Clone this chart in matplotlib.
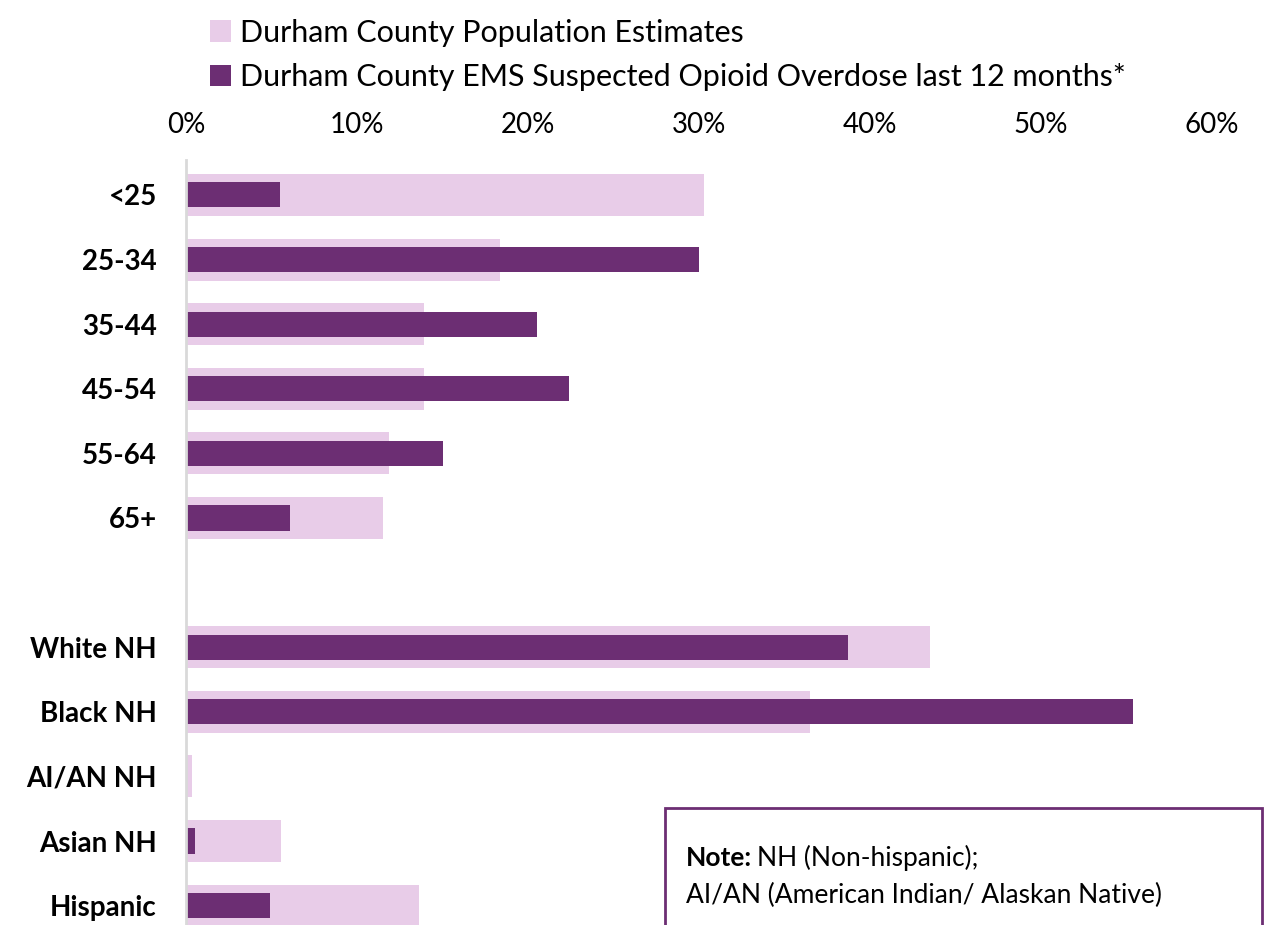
import matplotlib
matplotlib.use("Agg")
import matplotlib.pyplot as plt
from matplotlib.patches import Rectangle

plt.rcParams['font.family'] = ['Lato', 'DejaVu Sans']

categories = ["<25", "25-34", "35-44", "45-54", "55-64", "65+", "",
              "White NH", "Black NH", "AI/AN NH", "Asian NH", "Hispanic"]
population = [30.3, 18.35, 13.9, 13.9, 11.9, 11.5, None,
              43.5, 36.5, 0.35, 5.55, 13.6]
ems = [5.5, 30.0, 20.5, 22.4, 15.0, 6.1, None,
       38.7, 55.4, 0.0, 0.5, 4.9]
xticks = [0, 10, 20, 30, 40, 50, 60]
xtick_labels = ["0%", "10%", "20%", "30%", "40%", "50%", "60%"]
legend_labels = ["Durham County Population Estimates",
                 "Durham County EMS Suspected Opioid Overdose last 12 months*"]

POP_C = "#E8CCE8"
EMS_C = "#6C2E73"

fig = plt.figure(figsize=(12.69, 9.25), dpi=100)
ax = fig.add_axes([186/1269, 0.0, (1212-186)/1269, 1 - 160/925])

ypos = [i for i, v in enumerate(population) if v is not None]
popv = [v for v in population if v is not None]
emsv = [v for v in ems if v is not None]
labs = [c for c, v in zip(categories, population) if v is not None]

b1 = ax.barh(ypos, popv, height=0.65, color=POP_C, label=legend_labels[0])
b2 = ax.barh(ypos, emsv, height=0.39, color=EMS_C, label=legend_labels[1])

ax.set_xlim(0, 60)
ax.set_ylim(11.30, -0.54)
ax.xaxis.tick_top()
ax.set_xticks(xticks)
ax.set_xticklabels(xtick_labels, fontsize=20)
ax.tick_params(axis='x', length=0, pad=16)
ax.set_yticks(ypos)
ax.set_yticklabels(labs, fontsize=20, fontweight='bold')
ax.tick_params(axis='y', length=0, pad=21)
for s in ['top', 'right', 'bottom']:
    ax.spines[s].set_visible(False)
ax.spines['left'].set_color('#D9D9D9')
ax.spines['left'].set_linewidth(2)

fig.legend(handles=[b1, b2], labels=legend_labels, loc='upper left',
           bbox_to_anchor=(182/1269, 1 + 9/925), frameon=False, fontsize=22,
           handlelength=0.7, handleheight=0.7, handletextpad=0.3,
           labelspacing=0.55)

# Note box
box = Rectangle((665/1269, -0.05), (1262-665)/1269, (925-808)/925 + 0.05,
                transform=fig.transFigure, facecolor='white',
                edgecolor=EMS_C, linewidth=2, zorder=5)
fig.patches.append(box)
t1 = fig.text(686/1269, 1 - 858/925, "Note:", fontsize=19, fontweight='bold',
              va='center', ha='left', zorder=6)
fig.canvas.draw()
bb = t1.get_window_extent(renderer=fig.canvas.get_renderer())
fig.text((bb.x1 + 5) / 1269, 1 - 858/925, "NH (Non-hispanic);",
         fontsize=19, va='center', ha='left', zorder=6)
fig.text(686/1269, 1 - 895/925, "AI/AN (American Indian/ Alaskan Native)",
         fontsize=19, va='center', ha='left', zorder=6)

fig.savefig("out.png", dpi=100)
